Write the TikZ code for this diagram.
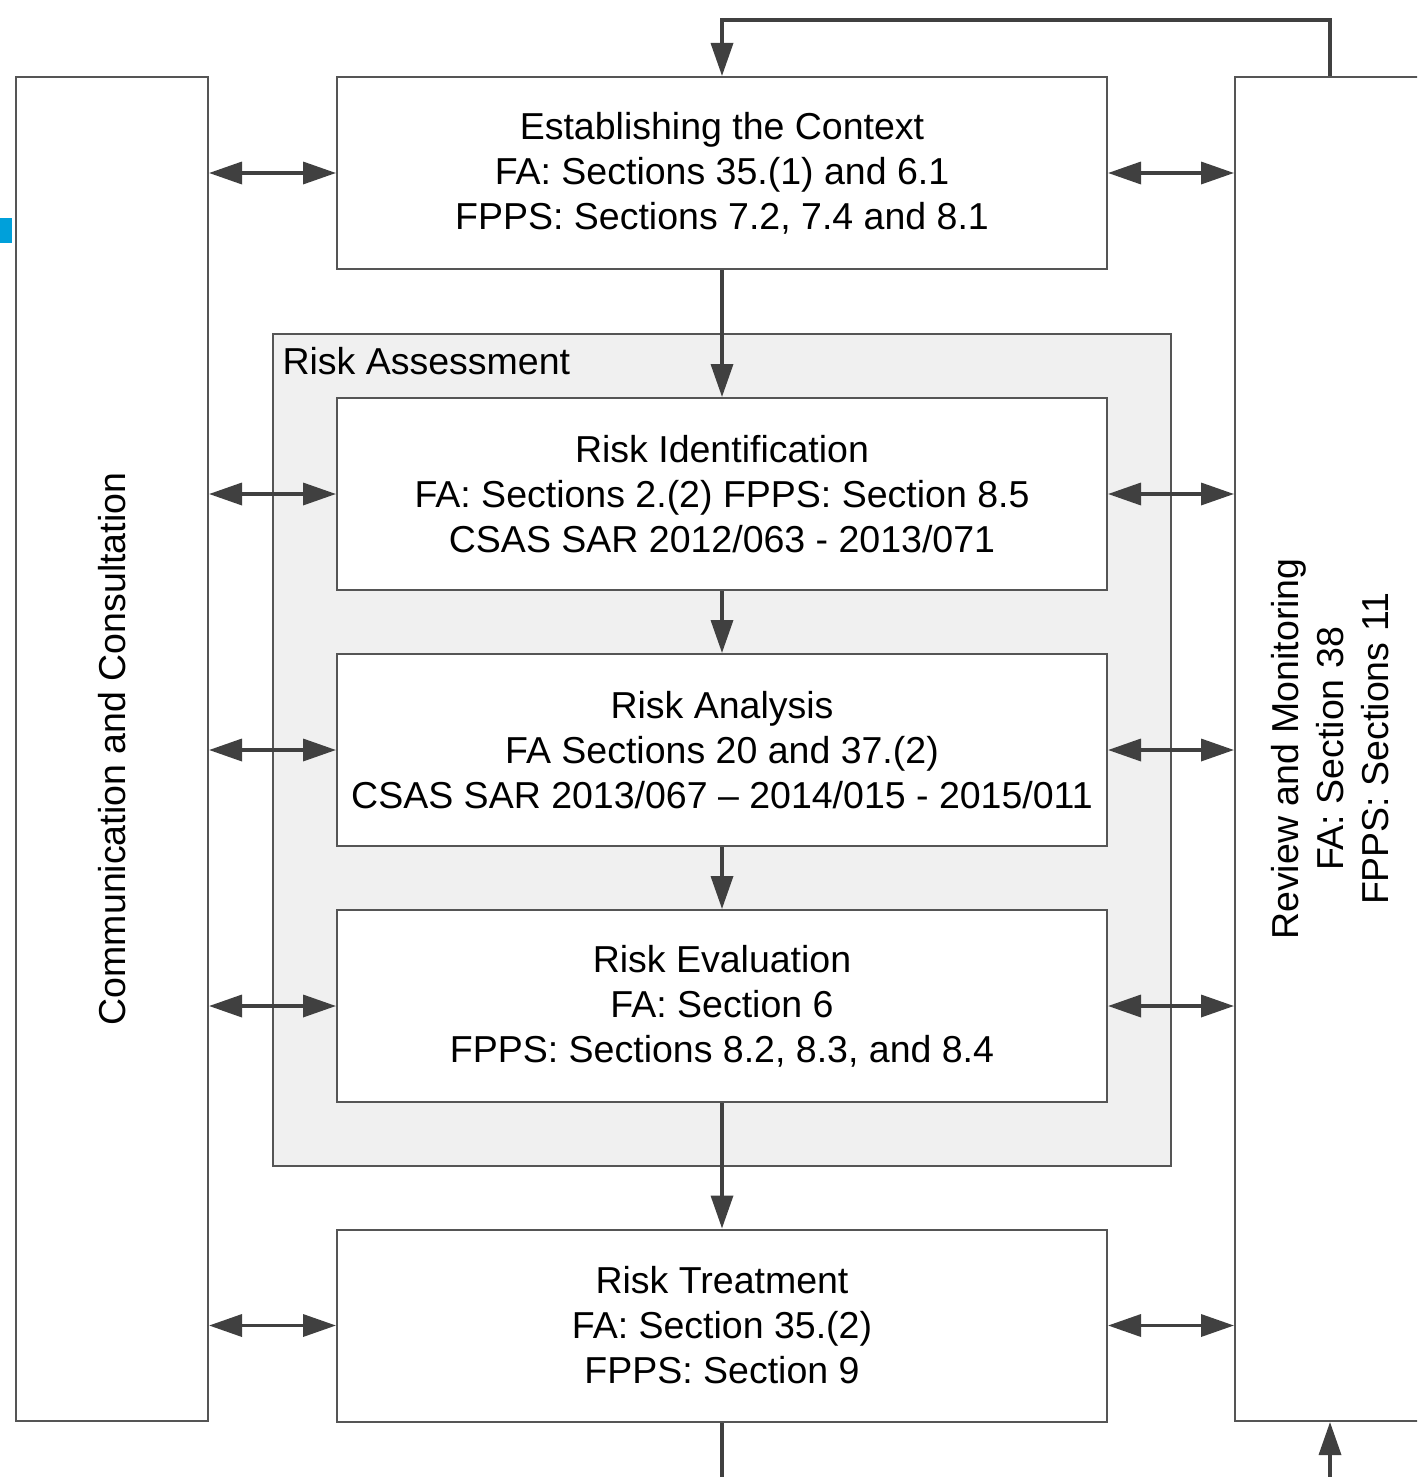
\documentclass[tikz,border=0pt]{standalone}
\usepackage{fontspec}
\setmainfont{Liberation Sans}
\usetikzlibrary{arrows.meta,calc}
\definecolor{edge}{HTML}{404040}
\definecolor{frame}{HTML}{555555}
\definecolor{grpfill}{HTML}{F0F0F0}
\definecolor{tab}{HTML}{00A0DA}
\begin{document}
\begin{tikzpicture}[x=1pt,y=-1pt,
  every node/.style={font=\fontsize{37.5}{45}\selectfont, text=black},
  stage/.style={draw=frame, line width=2pt, fill=white, minimum width=770pt,
    minimum height=192pt, align=center, inner sep=0pt},
  side/.style={draw=frame, line width=2pt, fill=white, inner sep=0pt},
  conn/.style={draw=edge, line width=3.5pt},
  arr/.style={conn, -{Triangle[length=33pt,width=22pt]}},
  dbl/.style={conn, {Triangle[length=33pt,width=22pt]}-{Triangle[length=33pt,width=22pt]}}]
\clip (0,0) rectangle (1417,1477);
\fill[white] (0,0) rectangle (1417,1477);

% small marker at the left margin
\fill[tab] (0,218) rectangle (12,243);

% side columns
\node (cc) [side, minimum width=192pt, minimum height=1344pt] at (112,749) {};
\node [rotate=90] at (cc.center) {Communication and Consultation};
\node (rm) [side, minimum width=190pt, minimum height=1344pt] at (1330,749) {};
\node [rotate=90, align=center] at (1330,749) {Review and Monitoring\\FA: Section 38\\FPPS: Sections 11};

% risk assessment group
\node (ra) [draw=frame, line width=2pt, fill=grpfill, minimum width=898pt,
  minimum height=832pt, inner sep=0pt] at (722,750) {};
\node [anchor=west] at (279,361) {Risk Assessment};

% process stages
\node (est) [stage] at (722,173) {Establishing the Context\\FA: Sections 35.(1) and 6.1\\FPPS: Sections 7.2, 7.4 and 8.1};
\node (rid) [stage] at (722,494) {Risk Identification\\FA: Sections 2.(2) FPPS: Section 8.5\\CSAS SAR 2012/063 - 2013/071};
\node (ran) [stage] at (722,750) {Risk Analysis\\FA Sections 20 and 37.(2)\\CSAS SAR 2013/067 – 2014/015 - 2015/011};
\node (rev) [stage] at (722,1006) {Risk Evaluation\\FA: Section 6\\FPPS: Sections 8.2, 8.3, and 8.4};
\node (rtr) [stage] at (722,1325.5) {Risk Treatment\\FA: Section 35.(2)\\FPPS: Section 9};

% main flow
\draw[arr] (est.south) -- (rid.north);
\draw[arr] (rid.south) -- (ran.north);
\draw[arr] (ran.south) -- (rev.north);
\draw[arr] (rev.south) -- (rtr.north);

% exchanges with the side columns
\foreach \s in {est,rid,ran,rev,rtr}{
  \draw[dbl] (cc.east |- \s.west) -- (\s.west);
  \draw[dbl] (\s.east) -- (rm.west |- \s.east);
}

% feedback loop
\coordinate (top) at (1330,20);
\draw[arr] (rm.north) -- (top) -| (est.north);
\coordinate (outT) at ($(rtr.south)+(0,60)$);
\coordinate (inR) at ($(rm.south)+(0,60)$);
\draw[conn] (rtr.south) -- (outT);
\draw[arr] (inR) -- (rm.south);
\end{tikzpicture}
\end{document}
